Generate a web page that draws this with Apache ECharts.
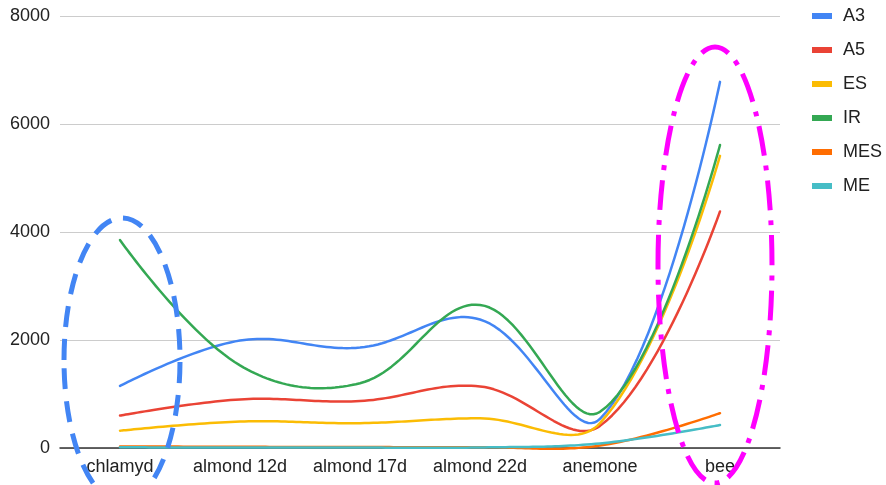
<!DOCTYPE html>
<html>
<head>
<meta charset="utf-8">
<script src="https://cdn.jsdelivr.net/npm/echarts@6/dist/echarts.min.js"></script>
<style>html,body{margin:0;padding:0;background:#fff;}#c{width:886px;height:485px;}</style>
</head>
<body>
<div id="c"></div>
<script>
const categories = ['chlamyd', 'almond 12d', 'almond 17d', 'almond 22d', 'anemone', 'bee'];
const seriesNames = ['A3', 'A5', 'ES', 'IR', 'MES', 'ME'];
const A3 = [1150, 1990, 1860, 2380, 540, 6780];
const A5 = [600, 900, 870, 1140, 410, 4380];
const ES = [320, 490, 460, 550, 460, 5410];
const IR = [3850, 1530, 1200, 2650, 670, 5610];
const MES = [30, 22, 18, 15, 45, 645];
const ME = [12, 10, 8, 10, 85, 425];
const yTicks = [0, 2000, 4000, 6000, 8000];

const colors = ['#4285F4', '#EA4335', '#FBBC04', '#34A853', '#FF6D01', '#46BDC6'];
const allData = [A3, A5, ES, IR, MES, ME];
const font = 'Liberation Sans, Arial, sans-serif';
const SMOOTH = 0.38;

// Smooth curve through pixel points (no clamping, so it may overshoot like the original)
function smoothPoints(pts, s) {
  const n = pts.length;
  const fwd = [], back = [];
  for (let i = 0; i < n; i++) {
    const p = pts[i];
    if (i === 0 || i === n - 1) { fwd.push(p); back.push(p); continue; }
    const pr = pts[i - 1], nx = pts[i + 1];
    const lp = Math.hypot(p[0] - pr[0], p[1] - pr[1]);
    const ln = Math.hypot(nx[0] - p[0], nx[1] - p[1]);
    const vx = nx[0] - pr[0], vy = nx[1] - pr[1];
    const sum = lp + ln || 1;
    fwd.push([p[0] + vx * s * ln / sum, p[1] + vy * s * ln / sum]);
    back.push([p[0] - vx * s * lp / sum, p[1] - vy * s * lp / sum]);
  }
  const out = [pts[0]];
  const steps = 30;
  for (let i = 0; i < n - 1; i++) {
    const p0 = pts[i], c0 = fwd[i], c1 = back[i + 1], p1 = pts[i + 1];
    for (let k = 1; k <= steps; k++) {
      const t = k / steps, u = 1 - t;
      const a = u * u * u, b = 3 * u * u * t, c = 3 * u * t * t, d = t * t * t;
      out.push([a * p0[0] + b * c0[0] + c * c1[0] + d * p1[0],
                a * p0[1] + b * c0[1] + c * c1[1] + d * p1[1]]);
    }
  }
  return out;
}

function makeRender(si) {
  return function (params, api) {
    if (params.dataIndexInside !== 0) return null;
    const n = params.dataInsideLength;
    const pts = [];
    for (let i = 0; i < n; i++) {
      pts.push(api.coord([api.value(0, i), api.value(1, i)]));
    }
    return {
      type: 'polyline',
      shape: {points: smoothPoints(pts, SMOOTH)},
      style: {stroke: colors[si], lineWidth: 2.5, fill: null, lineJoin: 'round', lineCap: 'round'},
      silent: true
    };
  };
}

const chart = echarts.init(document.getElementById('c'), null, {renderer: 'canvas'});
chart.setOption({
  animation: false,
  color: colors,
  grid: {left: 60, right: 106, top: 16, bottom: 37, containLabel: false},
  legend: {
    orient: 'vertical', left: 812, top: 7, padding: 0,
    itemWidth: 20, itemHeight: 6, itemGap: 16, icon: 'rect',
    textStyle: {fontSize: 18, color: '#222', fontFamily: font, lineHeight: 18, padding: [0, 0, 0, 6]},
    data: seriesNames
  },
  xAxis: {
    type: 'category', data: categories, boundaryGap: true,
    axisLine: {lineStyle: {color: '#333', width: 1.5}},
    axisTick: {show: false},
    axisLabel: {fontSize: 18, color: '#222', fontFamily: font, margin: 10, interval: 0}
  },
  yAxis: {
    type: 'value', min: yTicks[0], max: yTicks[yTicks.length - 1], interval: 2000,
    axisLine: {show: false}, axisTick: {show: false},
    axisLabel: {fontSize: 18, color: '#222', fontFamily: font, margin: 10, formatter: v => String(v)},
    splitLine: {lineStyle: {color: '#cccccc', width: 1}}
  },
  series: seriesNames.map((n, i) => ({
    name: n, type: 'custom',
    data: allData[i].map((v, j) => [j, v]),
    encode: {x: 0, y: 1},
    itemStyle: {color: colors[i]},
    renderItem: makeRender(i),
    z: 2 + i
  }))
});

function drawEllipses() {
  const c0 = chart.convertToPixel({gridIndex: 0}, [0, 0]);
  const c5 = chart.convertToPixel({gridIndex: 0}, [5, 0]);
  chart.setOption({
    graphic: [
      {
        type: 'ellipse',
        shape: {cx: c0[0] + 2, cy: c0[1] - 88, rx: 58, ry: 142},
        style: {fill: null, stroke: '#4285F4', lineWidth: 5, lineDash: [21, 12]},
        z: 100
      },
      {
        type: 'ellipse',
        shape: {cx: c5[0] - 5, cy: c5[1] - 183, rx: 57, ry: 218},
        style: {fill: null, stroke: '#FF00FF', lineWidth: 5, lineDash: [30, 10, 5, 10]},
        z: 100
      }
    ]
  });
}
drawEllipses();
</script>
</body>
</html>
